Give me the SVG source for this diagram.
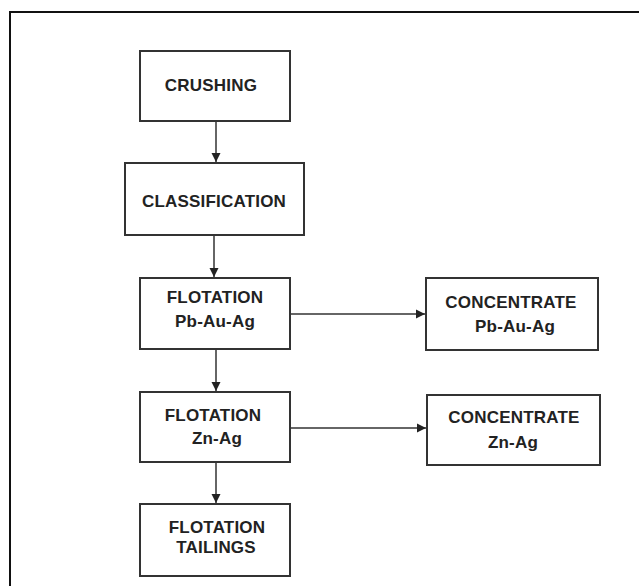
<svg xmlns="http://www.w3.org/2000/svg" width="639" height="586" viewBox="0 0 639 586">
<style>
.box{fill:#fff;stroke:#333;stroke-width:2}
.t{font-family:"Liberation Sans",Arial,sans-serif;font-weight:bold;font-size:17px;letter-spacing:0.2px;fill:#222;text-anchor:middle}
.c{stroke:#333;stroke-width:1.5;fill:none}
</style>
<defs>
<marker id="ah" markerWidth="10" markerHeight="10" refX="9" refY="5" orient="auto" markerUnits="userSpaceOnUse">
<path d="M0,0.5 L9,5 L0,9.5 Z" fill="#222"/>
</marker>
</defs>
<rect width="639" height="586" fill="#fff"/>
<path d="M10,586 V12 H639" fill="none" stroke="#111" stroke-width="2"/>
<g id="connectors">
<line class="c" x1="216" y1="121" x2="216" y2="162" marker-end="url(#ah)"/>
<line class="c" x1="214" y1="235" x2="214" y2="277" marker-end="url(#ah)"/>
<line class="c" x1="216" y1="349" x2="216" y2="391" marker-end="url(#ah)"/>
<line class="c" x1="216" y1="462" x2="216" y2="503" marker-end="url(#ah)"/>
<line class="c" x1="290" y1="314" x2="425" y2="314" marker-end="url(#ah)"/>
<line class="c" x1="290" y1="428" x2="426" y2="428" marker-end="url(#ah)"/>
</g>
<g id="crushing">
<rect class="box" x="140" y="51" width="150" height="70"/>
<text class="t" x="211" y="91">CRUSHING</text>
</g>
<g id="classification">
<rect class="box" x="125" y="163" width="179" height="72"/>
<text class="t" x="214" y="207">CLASSIFICATION</text>
</g>
<g id="flotation-pb">
<rect class="box" x="140" y="278" width="150" height="71"/>
<text class="t" x="215" y="303">FLOTATION</text>
<text class="t" x="215" y="327">Pb-Au-Ag</text>
</g>
<g id="concentrate-pb">
<rect class="box" x="426" y="278" width="172" height="72"/>
<text class="t" x="511" y="308">CONCENTRATE</text>
<text class="t" x="515" y="332">Pb-Au-Ag</text>
</g>
<g id="flotation-zn">
<rect class="box" x="140" y="392" width="150" height="70"/>
<text class="t" x="213" y="421">FLOTATION</text>
<text class="t" x="217" y="444">Zn-Ag</text>
</g>
<g id="concentrate-zn">
<rect class="box" x="427" y="395" width="173" height="70"/>
<text class="t" x="514" y="423">CONCENTRATE</text>
<text class="t" x="513" y="448">Zn-Ag</text>
</g>
<g id="tailings">
<rect class="box" x="140" y="504" width="150" height="72"/>
<text class="t" x="217" y="533">FLOTATION</text>
<text class="t" x="216" y="553">TAILINGS</text>
</g>
</svg>
